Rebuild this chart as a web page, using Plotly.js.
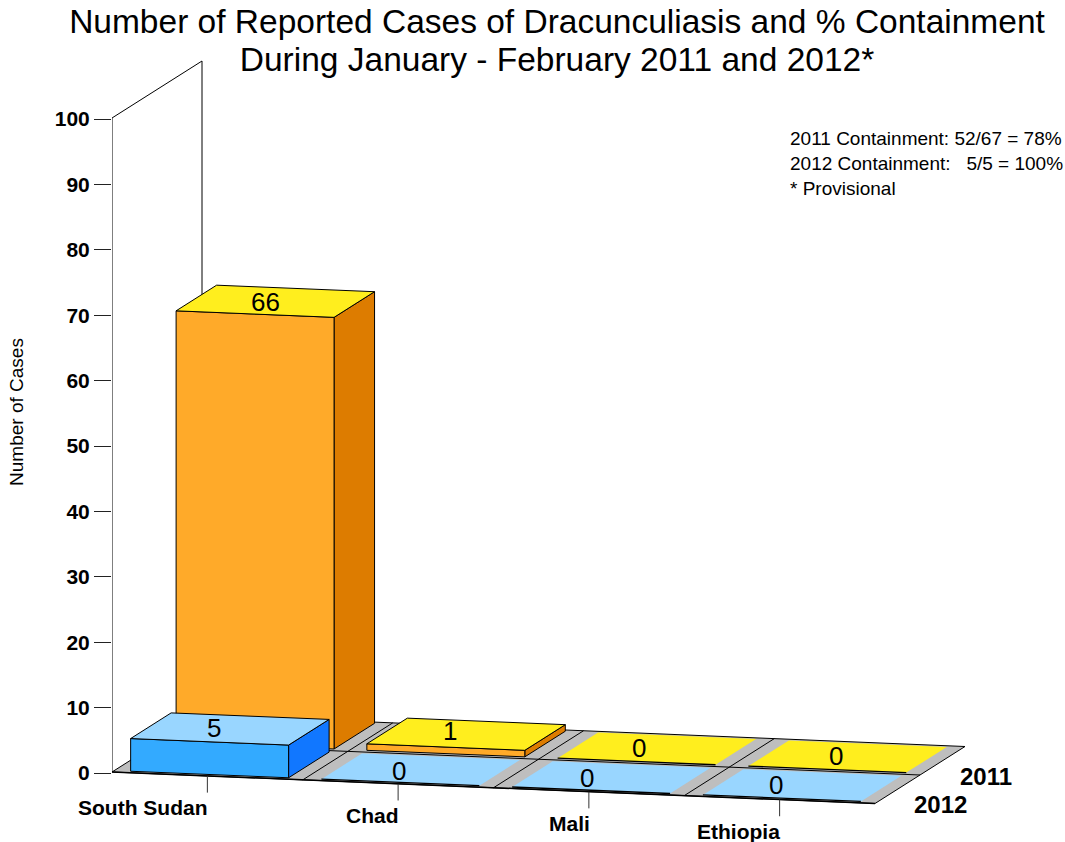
<!DOCTYPE html>
<html><head><meta charset="utf-8">
<script src="https://cdn.plot.ly/plotly-3.0.1.min.js"></script>
<style>html,body{margin:0;padding:0;background:#fff}#chart{width:1065px;height:842px}</style>
</head><body><div id="chart"></div>
<script>
// ---- data ----
const categories = ["South Sudan", "Chad", "Mali", "Ethiopia"];
const years = ["2011", "2012"];
const cases2011 = [66, 1, 0, 0];
const cases2012 = [5, 0, 0, 0];
const yTicks = [0, 10, 20, 30, 40, 50, 60, 70, 80, 90, 100];
const noteLines = ["2011 Containment: 52/67 = 78%", "2012 Containment:\u00a0\u00a0\u00a05/5 = 100%", "* Provisional"];
const titleLines = ["Number of Reported Cases of Dracunculiasis and % Containment", "During January - February 2011 and 2012*"];
const yTitle = "Number of Cases";

// ---- style + oblique projection (chart units: x = categories, y = cases) ----
const FONT = "Liberation Sans, Arial, sans-serif";
const PX_PER_CAT = 190.75, PX_PER_CASE = 6.54;
const DEPTH_DX = 90 / PX_PER_CAT, DEPTH_DY = 57 / PX_PER_CASE, SLOPE = 7.875 / PX_PER_CASE;
const FLOOR_LIFT = 1 / PX_PER_CASE;
const GAP = 0.086;
const COL = {
  y2011: {front: "#FFAA29", side: "#DD7C00", top: "#FFEE1E"},
  y2012: {front: "#33AAFF", side: "#1177FF", top: "#99D6FF"}
};
const P = (c, d, v) => [c + d * DEPTH_DX, v - c * SLOPE + d * DEPTH_DY + FLOOR_LIFT];

const traces = [];
function poly(pts, fill, lineW) {
  const a = pts.concat([pts[0]]);
  traces.push({type: "scatter", mode: "lines", x: a.map(p => p[0]), y: a.map(p => p[1]),
    fill: "toself", fillcolor: fill, line: {color: lineW ? "#000" : fill, width: lineW || 0},
    hoverinfo: "skip", showlegend: false});
}
function seg(pts, w, color) {
  traces.push({type: "scatter", mode: "lines", x: pts.map(p => p[0]), y: pts.map(p => p[1]),
    line: {color: color || "#000", width: w || 1}, hoverinfo: "skip", showlegend: false});
}
function bar(i, d0, d1, v, col) {
  const c0 = i + GAP, c1 = i + 1 - GAP;
  if (v === 0) {
    poly([P(c0, d0, 0), P(c1, d0, 0), P(c1, d1, 0), P(c0, d1, 0)], col.top, 0);
    seg([P(c0, d0, 0), P(c1, d0, 0)], 1.3);
    return;
  }
  poly([P(c1, d0, 0), P(c1, d1, 0), P(c1, d1, v), P(c1, d0, v)], col.side, 1);
  poly([P(c0, d0, 0), P(c1, d0, 0), P(c1, d0, v), P(c0, d0, v)], col.front, 1);
  poly([P(c0, d0, v), P(c1, d0, v), P(c1, d1, v), P(c0, d1, v)], col.top, 1);
}

// wall
seg([P(0, 0, 100), P(0, 1, 100), P(0, 1, 0)], 1);
// floor
poly([P(0, 0, 0), P(4, 0, 0), P(4, 1, 0), P(0, 1, 0)], "#BEBEBE", 1);
seg([P(0, 0.5, 0), P(4, 0.5, 0)], 1);
[1, 2, 3].forEach(c => seg([P(c, 0, 0), P(c, 1, 0)], 1));
// bars, back row first
cases2011.forEach((v, i) => bar(i, 0.53, 0.98, v, COL.y2011));
seg([P(0, 0, 0), P(0, 0, 100)], 1);
cases2012.forEach((v, i) => bar(i, 0.025, 0.475, v, COL.y2012));
seg([P(0, 0, 0), P(4, 0, 0)], 1.5);
// category ticks
categories.forEach((n, i) => seg([P(i + .5, 0, 0), P(i + .5, 0, -2.55)], 1, "#333"));

// ---- labels ----
const ann = [];
const valueNudge2011 = [[-9, 0], [-16, -4], [-17, -1], [-11, -1]];
const valueNudge2012 = [[-16, -1], [-22, 1], [-24, 1], [-26, 0]];
function valueLabel(i, d, v, nudge) {
  const p = P(i + .5, d, v);
  ann.push({x: p[0], y: p[1], text: String(v), showarrow: false, xanchor: "center", yanchor: "middle",
    xshift: nudge[0], yshift: -nudge[1], font: {family: FONT, size: 26, color: "#000"}});
}
cases2011.forEach((v, i) => valueLabel(i, .75, v, valueNudge2011[i]));
cases2012.forEach((v, i) => valueLabel(i, .25, v, valueNudge2012[i]));
categories.forEach((n, i) => {
  const p = P(i + .5, 0, 0);
  ann.push({x: p[0], y: p[1], text: "<b>" + n + "</b>", showarrow: false, xanchor: "right", yanchor: "middle",
    xshift: 2.8, yshift: -31.5, font: {family: FONT, size: 21, color: "#000"}});
});
// year labels
const yr = [P(4, 1, 0), P(4, 0, 0)];
years.forEach((y, i) => ann.push({x: yr[i][0], y: yr[i][1], text: "<b>" + y + "</b>", showarrow: false,
  xanchor: "left", yanchor: "middle", xshift: i ? 37 : -7.5, yshift: i ? -1 : -30,
  font: {family: FONT, size: 24, color: "#000"}}));
// notes
noteLines.forEach((t, i) => ann.push({xref: "paper", yref: "paper", x: (790 - 112) / 953, y: (824 - (139 + i * 24.5)) / 824,
  text: t, showarrow: false, xanchor: "left", yanchor: "middle", align: "left", xshift: -2,
  font: {family: FONT, size: 19, color: "#000"}}));

const span = s => '<span style="font-size:33.5px">' + s + '</span>';
const layout = {
  width: 1065, height: 842, autosize: false,
  paper_bgcolor: "#fff", plot_bgcolor: "rgba(0,0,0,0)",
  margin: {l: 112, r: 0, t: 0, b: 18, pad: 0},
  title: {text: titleLines.map(span).join("<br>"), x: 557 / 1065, xanchor: "center", y: 0.961, yanchor: "top",
    font: {family: FONT, size: 29.2, color: "#000"}},
  xaxis: {visible: false, range: [0, 953 / PX_PER_CAT], fixedrange: true},
  yaxis: {range: [-51 / PX_PER_CASE, 773 / PX_PER_CASE], tickmode: "array", tickvals: yTicks,
    ticktext: yTicks.map(t => "<b>" + t + "</b>"), ticks: "outside", ticklen: 17, tickcolor: "#222", tickwidth: 1,
    tickfont: {family: FONT, size: 21, color: "#000"}, showgrid: false, zeroline: false, showline: false,
    fixedrange: true, automargin: false,
    title: {text: yTitle, standoff: 26, font: {family: FONT, size: 19, color: "#000"}}},
  annotations: ann, showlegend: false
};
Plotly.newPlot("chart", traces, layout, {displayModeBar: false, staticPlot: true});
</script></body></html>
